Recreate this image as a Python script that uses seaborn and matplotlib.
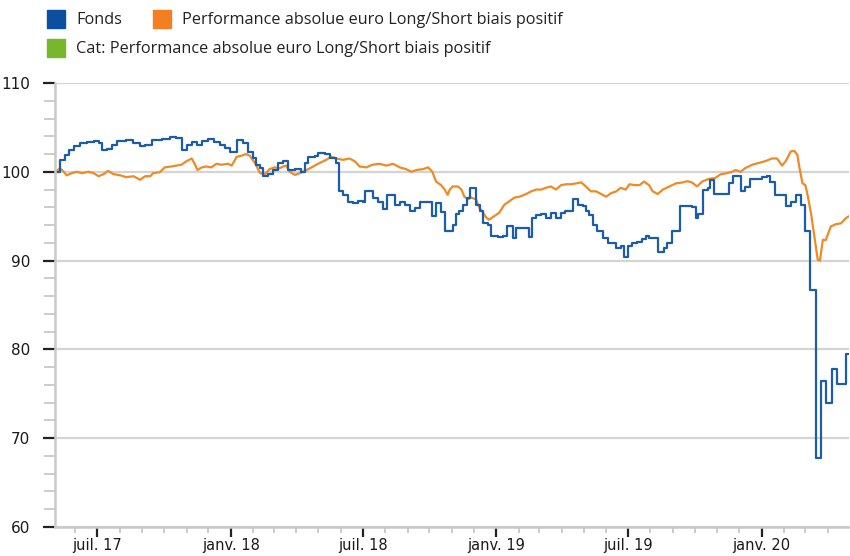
import matplotlib
matplotlib.use("Agg")
import matplotlib.pyplot as plt
import matplotlib.dates as mdates
from matplotlib.patches import Rectangle
import pandas as pd
import seaborn as sns

# --- data ---
fonds_dates = [
    "2017-05-05", "2017-05-11", "2017-05-18", "2017-05-23", "2017-05-30", "2017-06-08", "2017-06-17",
    "2017-06-26", "2017-07-03", "2017-07-07", "2017-07-14", "2017-07-21", "2017-07-28", "2017-08-10",
    "2017-08-19", "2017-08-29", "2017-09-05", "2017-09-14", "2017-09-28", "2017-10-09", "2017-10-18",
    "2017-10-25", "2017-11-01", "2017-11-08", "2017-11-15", "2017-11-22", "2017-12-01", "2017-12-08",
    "2017-12-17", "2017-12-24", "2017-12-31", "2018-01-09", "2018-01-18", "2018-01-25", "2018-02-01",
    "2018-02-05", "2018-02-10", "2018-02-14", "2018-02-21", "2018-02-28", "2018-03-07", "2018-03-14",
    "2018-03-21", "2018-03-30", "2018-04-08", "2018-04-13", "2018-04-17", "2018-04-26", "2018-05-01",
    "2018-05-10", "2018-05-17", "2018-05-26", "2018-05-30", "2018-06-04", "2018-06-11", "2018-06-18",
    "2018-06-25", "2018-07-02", "2018-07-05", "2018-07-11", "2018-07-15", "2018-07-22", "2018-07-29",
    "2018-08-03", "2018-08-14", "2018-08-21", "2018-08-28", "2018-09-04", "2018-09-11", "2018-09-18",
    "2018-10-04", "2018-10-10", "2018-10-17", "2018-10-22", "2018-11-02", "2018-11-07", "2018-11-11",
    "2018-11-16", "2018-11-21", "2018-11-26", "2018-12-04", "2018-12-09", "2018-12-13", "2018-12-20",
    "2018-12-25", "2019-01-03", "2019-01-10", "2019-01-15", "2019-01-24", "2019-01-28", "2019-02-15",
    "2019-02-19", "2019-02-25", "2019-03-04", "2019-03-10", "2019-03-17", "2019-03-24", "2019-03-31",
    "2019-04-05", "2019-04-14", "2019-04-17", "2019-04-23", "2019-04-30", "2019-05-04", "2019-05-09",
    "2019-05-14", "2019-05-20", "2019-05-27", "2019-06-03", "2019-06-15", "2019-06-21", "2019-06-26",
    "2019-07-01", "2019-07-07", "2019-07-14", "2019-07-20", "2019-07-26", "2019-07-30", "2019-08-12",
    "2019-08-19", "2019-08-24", "2019-08-31", "2019-09-10", "2019-09-27", "2019-10-02", "2019-10-06",
    "2019-10-12", "2019-10-19", "2019-10-22", "2019-10-27", "2019-11-17", "2019-11-23", "2019-12-03",
    "2019-12-09", "2019-12-16", "2020-01-01", "2020-01-08", "2020-01-13", "2020-01-19", "2020-02-03",
    "2020-02-10", "2020-02-17", "2020-02-24", "2020-03-01", "2020-03-08", "2020-03-15", "2020-03-22",
    "2020-03-29", "2020-04-06", "2020-04-13", "2020-04-26", "2020-04-30",
]
fonds_values = [
    100.0, 101.35, 101.9, 102.5, 102.85, 103.2, 103.4,
    103.5, 103.2, 102.4, 102.6, 103.0, 103.5, 103.6,
    103.2, 102.85, 103.05, 103.6, 103.7, 103.9, 103.8,
    102.5, 103.05, 103.4, 103.0, 103.5, 103.7, 103.4,
    103.0, 102.7, 102.2, 103.6, 103.2, 102.2, 101.5,
    100.8, 100.4, 99.5, 99.8, 100.2, 101.0, 101.2,
    100.2, 100.3, 100.0, 101.0, 101.7, 101.8, 102.1,
    102.0, 101.5, 101.0, 97.8, 97.4, 96.65, 96.5,
    96.7, 96.6, 97.85, 97.8, 97.1, 96.6, 95.8,
    97.4, 96.3, 96.6, 96.3, 95.6, 95.9, 96.6,
    95.0, 96.5, 95.45, 93.3, 94.0, 95.2, 95.6,
    96.3, 97.1, 98.2, 96.3, 95.6, 94.2, 94.0,
    92.8, 92.7, 92.8, 93.9, 92.6, 93.7, 92.7,
    94.85, 95.15, 95.3, 94.8, 95.4, 94.8, 95.4,
    95.55, 95.6, 96.95, 96.3, 96.1, 95.6, 95.15,
    94.0, 93.3, 92.5, 92.0, 91.4, 91.6, 90.35,
    91.7, 91.95, 92.1, 92.4, 92.8, 92.5, 91.0,
    91.4, 91.95, 93.35, 96.1, 96.0, 94.85, 95.2,
    98.0, 98.2, 99.1, 97.5, 98.7, 99.5, 97.85,
    98.3, 99.2, 99.4, 99.5, 98.85, 97.4, 96.2,
    96.6, 97.4, 96.3, 93.3, 86.7, 67.75, 76.4,
    74.0, 77.8, 76.1, 79.5, 79.5,
]

cat_dates = [
    "2017-05-05", "2017-05-11", "2017-05-16", "2017-05-20", "2017-05-27", "2017-06-03", "2017-06-10",
    "2017-06-19", "2017-06-26", "2017-07-03", "2017-07-10", "2017-07-16", "2017-07-23", "2017-08-02",
    "2017-08-10", "2017-08-20", "2017-08-29", "2017-09-05", "2017-09-12", "2017-09-16", "2017-09-25",
    "2017-10-02", "2017-10-11", "2017-10-18", "2017-10-25", "2017-11-01", "2017-11-08", "2017-11-12",
    "2017-11-16", "2017-11-22", "2017-11-28", "2017-12-05", "2017-12-12", "2017-12-19", "2017-12-28",
    "2018-01-02", "2018-01-09", "2018-01-15", "2018-01-22", "2018-01-27", "2018-02-01", "2018-02-03",
    "2018-02-10", "2018-02-17", "2018-02-23", "2018-03-02", "2018-03-09", "2018-03-14", "2018-03-18",
    "2018-03-23", "2018-03-30", "2018-04-06", "2018-04-15", "2018-04-24", "2018-05-03", "2018-05-12",
    "2018-05-19", "2018-05-26", "2018-06-04", "2018-06-13", "2018-06-20", "2018-06-27", "2018-07-06",
    "2018-07-15", "2018-07-24", "2018-08-03", "2018-08-12", "2018-08-21", "2018-08-30", "2018-09-06",
    "2018-09-13", "2018-09-22", "2018-09-29", "2018-10-05", "2018-10-10", "2018-10-17", "2018-10-22",
    "2018-10-26", "2018-10-29", "2018-11-02", "2018-11-09", "2018-11-14", "2018-11-18", "2018-11-23",
    "2018-11-27", "2018-12-04", "2018-12-09", "2018-12-13", "2018-12-18", "2018-12-22", "2018-12-29",
    "2019-01-05", "2019-01-12", "2019-01-19", "2019-01-26", "2019-02-02", "2019-02-11", "2019-02-18",
    "2019-02-25", "2019-03-04", "2019-03-10", "2019-03-17", "2019-03-24", "2019-03-31", "2019-04-07",
    "2019-04-14", "2019-04-21", "2019-04-28", "2019-05-04", "2019-05-11", "2019-05-18", "2019-05-25",
    "2019-06-01", "2019-06-08", "2019-06-15", "2019-06-21", "2019-06-28", "2019-07-03", "2019-07-10",
    "2019-07-17", "2019-07-23", "2019-07-30", "2019-08-04", "2019-08-11", "2019-08-18", "2019-08-27",
    "2019-09-05", "2019-09-14", "2019-09-21", "2019-09-27", "2019-10-04", "2019-10-11", "2019-10-20",
    "2019-10-29", "2019-11-05", "2019-11-14", "2019-11-21", "2019-11-26", "2019-12-03", "2019-12-09",
    "2019-12-19", "2019-12-28", "2020-01-06", "2020-01-15", "2020-01-22", "2020-01-29", "2020-02-03",
    "2020-02-10", "2020-02-15", "2020-02-19", "2020-02-22", "2020-02-26", "2020-03-01", "2020-03-04",
    "2020-03-09", "2020-03-13", "2020-03-18", "2020-03-21", "2020-03-25", "2020-03-29", "2020-04-05",
    "2020-04-12", "2020-04-19", "2020-04-26", "2020-04-30",
]
cat_values = [
    100.0, 100.4, 100.0, 99.6, 99.85, 100.0, 99.85,
    100.0, 99.85, 99.5, 99.75, 100.1, 99.75, 99.6,
    99.4, 99.5, 99.1, 99.5, 99.5, 99.85, 99.95,
    100.5, 100.6, 100.7, 100.8, 101.2, 101.5, 100.9,
    100.2, 100.5, 100.6, 100.5, 100.9, 100.8, 100.9,
    100.7, 101.7, 101.8, 102.0, 101.8, 101.2, 101.0,
    99.85, 99.75, 100.3, 100.5, 100.4, 100.6, 100.7,
    100.0, 99.65, 99.85, 100.2, 100.6, 101.0, 101.35,
    101.7, 101.5, 101.35, 101.5, 101.2, 100.6, 100.5,
    100.8, 100.9, 100.7, 100.9, 100.5, 100.3, 100.0,
    100.2, 100.3, 100.5, 100.0, 98.9, 98.5, 98.0,
    97.4, 98.0, 98.35, 98.35, 98.0, 97.2, 96.9,
    97.1, 96.9, 95.9, 95.5, 94.85, 94.6, 95.0,
    95.4, 96.3, 96.7, 97.1, 97.2, 97.5, 97.8,
    98.0, 98.0, 98.2, 98.35, 98.0, 98.5, 98.6,
    98.6, 98.7, 98.8, 98.35, 97.8, 97.8, 97.5,
    97.2, 97.6, 97.8, 98.2, 98.0, 98.6, 98.5,
    98.5, 98.9, 98.5, 97.8, 97.5, 98.0, 98.35,
    98.7, 98.8, 98.95, 98.8, 98.35, 98.9, 99.2,
    99.3, 99.7, 99.85, 100.0, 100.2, 100.0, 100.4,
    100.8, 101.0, 101.2, 101.5, 101.5, 100.7, 101.2,
    102.3, 102.35, 101.9, 100.4, 98.7, 98.5, 97.4,
    95.2, 92.9, 90.1, 90.0, 92.35, 92.3, 93.85,
    94.1, 94.2, 94.8, 95.0,
]

major_ticks = ["2017-07-01", "2018-01-01", "2018-07-01", "2019-01-01", "2019-07-01", "2020-01-01"]
major_labels = ["juil. 17", "janv. 18", "juil. 18", "janv. 19", "juil. 19", "janv. 20"]
y_ticks = [60, 70, 80, 90, 100, 110]

legend_names = ["Fonds", "Performance absolue euro Long/Short biais positif",
                "Cat: Performance absolue euro Long/Short biais positif"]

BLUE = "#1c5dab"
ORANGE = "#ef8a26"
sq_colors = ["#0b4fa1", "#f47e22", "#76b82a"]

sns.set_style("white")
plt.rcParams["font.family"] = ["DejaVu Sans"]

fonds = pd.DataFrame({"date": pd.to_datetime(fonds_dates), "val": fonds_values})
cat = pd.DataFrame({"date": pd.to_datetime(cat_dates), "val": cat_values})

fig = plt.figure(figsize=(8.5, 5.56), dpi=100)
ax = fig.add_axes([55 / 850, 1 - 527 / 556, 794 / 850, 444 / 556])

sns.lineplot(data=cat, x="date", y="val", ax=ax, color=ORANGE, lw=1.6, estimator=None)
sns.lineplot(data=fonds, x="date", y="val", ax=ax, color=BLUE, lw=1.6,
             drawstyle="steps-post", estimator=None)

ax.set_xlim(pd.Timestamp("2017-05-04"), pd.Timestamp("2020-04-30"))
ax.set_ylim(60, 110)
ax.set_xlabel("")
ax.set_ylabel("")

ax.set_yticks(y_ticks)
ax.set_yticks(range(60, 111, 2), minor=True)
ax.set_xticks(pd.to_datetime(major_ticks))
ax.set_xticklabels(major_labels)
ax.xaxis.set_minor_locator(mdates.MonthLocator())

ax.grid(axis="y", which="major", color="#d4d4d4", lw=1.6)
ax.set_axisbelow(True)
for s in ["top", "right"]:
    ax.spines[s].set_visible(False)
for s in ["left", "bottom"]:
    ax.spines[s].set_color("#c9c9c9")
    ax.spines[s].set_linewidth(1.8)

ax.tick_params(which="both", left=True, bottom=True)
ax.tick_params(axis="both", which="major", length=9, width=1.6, color="#222222",
               labelsize=11, labelcolor="#1a1a1a")
ax.tick_params(axis="y", which="major", pad=9)
ax.tick_params(axis="x", which="major", length=7, pad=1, labelsize=10.5)
ax.tick_params(axis="y", which="minor", length=8, width=1.2, color="#c4c4c4")
ax.tick_params(axis="x", which="minor", length=4, width=1.2, color="#c4c4c4")

# legend drawn as squares + text like the original
legend_pos = [(47, 19), (153, 19), (47, 48)]
for (px, py), name, col in zip(legend_pos, legend_names, sq_colors):
    fig.patches.append(Rectangle((px / 850, 1 - (py + 9) / 556), 18 / 850, 18 / 556,
                                 transform=fig.transFigure, color=col))
    fig.text((px + 29) / 850, 1 - (py + 1) / 556, name, fontsize=11.7, color="#222222",
             va="center", ha="left", family=["Open Sans", "DejaVu Sans"])

fig.savefig("out.png", dpi=100)
